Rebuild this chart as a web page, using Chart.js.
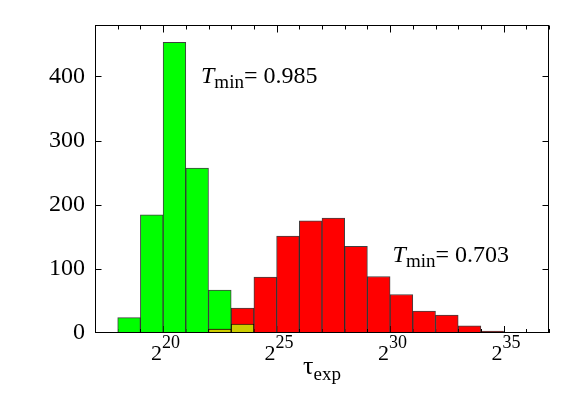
<!DOCTYPE html>
<html>
<head>
<meta charset="utf-8">
<script src="https://cdn.jsdelivr.net/npm/chart.js@4"></script>
<style>
  html, body { margin: 0; padding: 0; background: #fff; }
  #wrap { width: 581px; height: 407px; }
</style>
</head>
<body>
<div id="wrap"><canvas id="histChart"></canvas></div>
<script>
// each bin is one power of two wide, binStarts = log2 of the left edge
const binStarts = [18, 19, 20, 21, 22, 23, 24, 25, 26, 27, 28, 29, 30, 31, 32, 33, 34];
const greenCounts = [24, 184, 453, 257, 67, 14, 0, 0, 0, 0, 0, 0, 0, 0, 0, 0, 0];
const redCounts = [0, 0, 1, 1, 6, 39, 87, 151, 175, 179, 135, 88, 60, 34, 28, 11, 3];

const xMajorTicks = [20, 25, 30, 35];
const yTickValues = [0, 100, 200, 300, 400];

// label text and where it sits (log2 tau, count)
const annotations = [
  { exp: 21.67, count: 389, text: '0.985' },
  { exp: 30.11, count: 111, text: '0.703' }
];

const serif = '"Liberation Serif", "Times New Roman", serif';

function toPoints(counts) {
  return binStarts.map((b, i) => ({ x: b + 0.5, y: counts[i] }));
}

// where both histograms overlap the bar shows yellow
const overlapCounts = binStarts.map((_, i) => Math.min(greenCounts[i], redCounts[i]));

const frameAndLabels = {
  id: 'frameAndLabels',
  beforeDatasetsDraw(chart) {
    const { ctx, chartArea: a, scales: { x } } = chart;
    ctx.save();
    ctx.strokeStyle = '#000';
    ctx.lineWidth = 1;
    ctx.beginPath();
    for (let e = 17; e <= 37; e++) {
      const px = Math.round(x.getPixelForValue(e)) + 0.5;
      const len = xMajorTicks.includes(e) ? 7 : 4;
      ctx.moveTo(px, a.bottom);
      ctx.lineTo(px, a.bottom - len);
    }
    ctx.stroke();
    ctx.restore();
  },
  afterDraw(chart) {
    const { ctx, chartArea: a, scales: { x, y } } = chart;
    ctx.save();
    ctx.strokeStyle = '#000';
    ctx.lineWidth = 1;
    const l = Math.round(a.left) + 0.5, r = Math.round(a.right) - 0.5;
    const t = Math.round(a.top) + 0.5, b = Math.round(a.bottom) - 0.5;
    ctx.strokeRect(l, t, r - l, b - t);

    ctx.beginPath();
    for (let e = 17; e <= 37; e++) {
      const px = Math.round(x.getPixelForValue(e)) + 0.5;
      const len = xMajorTicks.includes(e) ? 7 : 4;
      ctx.moveTo(px, t);
      ctx.lineTo(px, t + len);
    }
    yTickValues.forEach(v => {
      if (v === 0) return;
      const py = Math.round(y.getPixelForValue(v)) + 0.5;
      ctx.moveTo(l, py);
      ctx.lineTo(l + 6, py);
      ctx.moveTo(r, py);
      ctx.lineTo(r - 6, py);
    });
    ctx.stroke();

    // x tick labels as powers of two
    ctx.fillStyle = '#000';
    ctx.textAlign = 'left';
    ctx.textBaseline = 'alphabetic';
    xMajorTicks.forEach(e => {
      const px = x.getPixelForValue(e);
      ctx.font = '22px ' + serif;
      const wBase = ctx.measureText('2').width;
      ctx.font = '18px ' + serif;
      const wSup = ctx.measureText(String(e)).width;
      const x0 = px - (wBase + wSup) / 2 + 2.5;
      ctx.font = '22px ' + serif;
      ctx.fillText('2', x0, a.bottom + 27);
      ctx.font = '18px ' + serif;
      ctx.fillText(String(e), x0 + wBase, a.bottom + 15);
    });

    // axis title tau_exp
    ctx.font = '26px ' + serif;
    const wTau = ctx.measureText('\u03c4').width;
    ctx.font = '19px ' + serif;
    const wExp = ctx.measureText('exp').width;
    const tx = (a.left + a.right) / 2 - (wTau + wExp) / 2;
    ctx.font = '26px ' + serif;
    ctx.fillText('\u03c4', tx, a.bottom + 41);
    ctx.font = '19px ' + serif;
    ctx.fillText('exp', tx + wTau, a.bottom + 47);

    // T_min annotations
    annotations.forEach(n => {
      let px = x.getPixelForValue(n.exp);
      const py = y.getPixelForValue(n.count);
      ctx.font = 'italic 24px ' + serif;
      ctx.fillText('T', px, py);
      px += ctx.measureText('T').width;
      ctx.font = '19px ' + serif;
      ctx.fillText('min', px, py + 5);
      px += ctx.measureText('min').width;
      ctx.font = '24px ' + serif;
      ctx.fillText('= ' + n.text, px, py);
    });
    ctx.restore();
  }
};

const barStyle = {
  borderColor: 'rgba(0, 0, 0, 0.75)',
  borderWidth: 1,
  borderSkipped: 'start',
  barPercentage: 1.0,
  categoryPercentage: 1.0,
  grouped: false
};

new Chart(document.getElementById('histChart'), {
  type: 'bar',
  data: {
    datasets: [
      Object.assign({ label: 'overlap', data: toPoints(overlapCounts), backgroundColor: '#cccc00' }, barStyle),
      Object.assign({ label: 'T = 0.703', data: toPoints(redCounts), backgroundColor: '#ff0000' }, barStyle),
      Object.assign({ label: 'T = 0.985', data: toPoints(greenCounts), backgroundColor: '#00ff00' }, barStyle)
    ]
  },
  options: {
    responsive: true,
    maintainAspectRatio: false,
    animation: false,
    layout: { padding: { left: 0, top: 25, right: 32, bottom: 0 } },
    plugins: {
      legend: { display: false },
      tooltip: { enabled: false }
    },
    scales: {
      x: {
        type: 'linear',
        min: 17,
        max: 37,
        offset: false,
        ticks: { display: false },
        grid: { display: false, drawTicks: false },
        border: { display: false },
        afterFit(s) { s.height = 74; }
      },
      y: {
        min: 0,
        max: 480,
        ticks: {
          stepSize: 100,
          includeBounds: false,
          padding: 10,
          color: '#000',
          font: { family: serif, size: 24 },
          callback: v => (yTickValues.includes(v) ? String(v) : '')
        },
        grid: { display: false, drawTicks: false },
        border: { display: false },
        afterFit(s) { s.width = 95; }
      }
    }
  },
  plugins: [frameAndLabels]
});
</script>
</body>
</html>
